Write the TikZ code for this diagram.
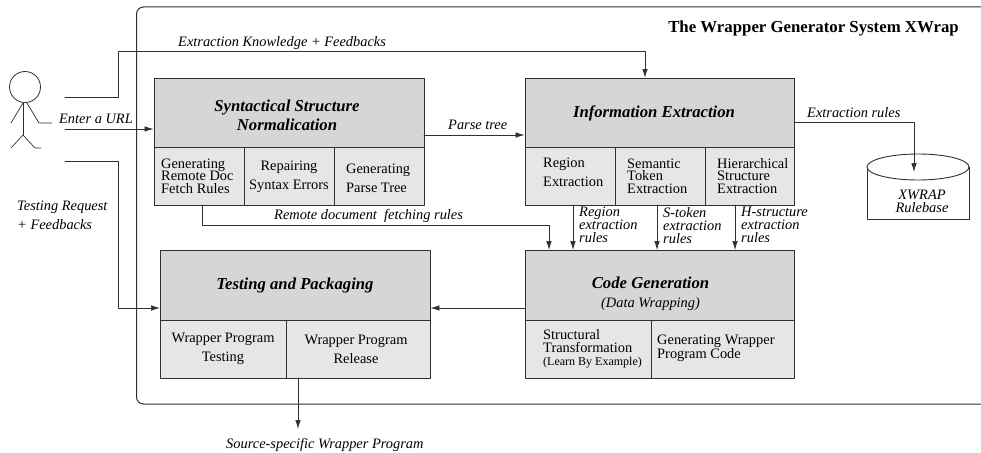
\documentclass[tikz,border=0pt]{standalone}
\usepackage{fontspec}
\setmainfont{Liberation Serif}
\usetikzlibrary{arrows.meta,positioning}
\definecolor{headgray}{HTML}{D6D6D6}
\definecolor{cellgray}{HTML}{E6E6E6}
\definecolor{linegray}{HTML}{303030}
\tikzset{
  headbox/.style={draw=linegray,line width=0.9pt,fill=headgray,inner sep=0pt,minimum height=70pt,align=center,font=\fontsize{16.7}{19}\selectfont\bfseries\itshape},
  headtext/.style={inner sep=0pt,align=center,font=\fontsize{16.7}{19}\selectfont\bfseries\itshape},
  cellbox/.style={draw=linegray,line width=0.9pt,fill=cellgray,inner sep=0pt,minimum height=58pt,align=center,font=\fontsize{14.4}{19}\selectfont},
  tight/.style={align=left,font=\fontsize{14.4}{12.6}\selectfont},
  lab/.style={inner sep=0pt,align=left,font=\fontsize{14.4}{13}\selectfont\itshape},
  wire/.style={draw=linegray,line width=0.7pt},
  arrow/.style={wire,-{Latex[length=9pt,width=5.5pt]}},
}
\begin{document}
\begin{tikzpicture}[x=1pt,y=-1pt,line cap=round,line join=round]
	\useasboundingbox (0,0) rectangle (981,452);
	% outer frame
	\draw [draw=linegray,line width=1pt,rounded corners=7pt] (1000,7)-- (136.5,7)-- (136.5,404)-- (1000,404);
	\node [anchor=base east,inner sep=0pt,font=\fontsize{16.8}{15}\selectfont\bfseries] (title) at (959,33) {The Wrapper Generator System XWrap};
	% syntactical structure
	\node [headbox,minimum width=270pt] (syn) at (289,113) {};
	\node [headtext] (synt) at (287,115) {Syntactical Structure\\Normalication};
	\node [cellbox,minimum width=90pt] (syna) at (199,176.5) {};
	\node [tight,inner sep=0pt,anchor=west] (synat) at (161,176) {Generating\\Remote Doc\\Fetch Rules};
	\node [cellbox,minimum width=90pt] (synb) at (289,176.5) {Repairing\\Syntax Errors};
	\node [cellbox,minimum width=90pt] (sync) at (379,176.5) {};
	\node [inner sep=0pt,align=left,anchor=west,font=\fontsize{14.4}{19}\selectfont] (synct) at (346,178) {Generating\\Parse Tree};
	% information extraction
	\node [headbox,minimum width=269pt] (inf) at (659.5,113) {};
	\node [headtext] (inft) at (654,113) {Information Extraction};
	\node [cellbox,minimum width=90pt] (infa) at (570,176.5) {};
	\node [inner sep=0pt,align=left,anchor=west,font=\fontsize{14.4}{19}\selectfont] (infat) at (543,172) {Region\\Extraction};
	\node [cellbox,minimum width=90pt] (infb) at (660,176.5) {};
	\node [tight,inner sep=0pt,anchor=west] (infbt) at (627,176) {Semantic\\Token\\Extraction};
	\node [cellbox,minimum width=89pt] (infc) at (749.5,176.5) {};
	\node [tight,inner sep=0pt,anchor=west] (infct) at (717,176) {Hierarchical\\Structure\\Extraction};
	% testing and packaging
	\node [headbox,minimum width=270pt] (tst) at (295,285) {Testing and Packaging};
	\node [cellbox,minimum width=126pt] (tsta) at (223,349) {Wrapper Program\\Testing};
	\node [cellbox,minimum width=144pt] (tstb) at (358,349) {};
	\node [inner sep=0pt,align=center,font=\fontsize{14.4}{19}\selectfont] (tstbt) at (356,349) {Wrapper Program\\Release};
	% code generation
	\node [headbox,minimum width=269pt] (cod) at (659.5,285) {};
	\node [headtext] (codt) at (650.5,294) {Code Generation\\{\fontsize{14.4}{19}\selectfont\mdseries (Data Wrapping)}};
	\node [cellbox,minimum width=126pt] (coda) at (588,349) {};
	\node [tight,inner sep=0pt,anchor=west] (codat) at (543,349) {Structural\\Transformation\\[1pt]{\fontsize{12}{12}\selectfont (Learn By Example)}};
	\node [cellbox,minimum width=143pt] (codb) at (722.5,349) {};
	\node [tight,inner sep=0pt,anchor=west] (codbt) at (657,348) {Generating Wrapper\\Program Code};
	% rulebase
	\draw [draw=linegray,line width=0.9pt,fill=white] (867,167)-- (867,219)-- (969,219)-- (969,167);
	\draw [draw=linegray,line width=0.9pt,fill=white] (918,167) ellipse (51pt and 13pt);
	\node [lab,align=center] (rule) at (922,201) {XWRAP\\Rulebase};
	\coordinate (rulein) at (914,172);
	% person
	\node [circle,draw=linegray,line width=0.8pt,minimum size=31pt,inner sep=0pt] (head) at (25,87) {};
	\draw [wire] (23,103)-- (23,135);
	\draw [wire] (23,103)-- (11,123);
	\draw [wire] (27,103)-- (39,123)-- (52,123);
	\draw [wire] (11,148)-- (23,135)-- (35,148)-- (41,148);
	\coordinate (pa) at (65,97);
	\coordinate (pb) at (65,129);
	\coordinate (pc) at (65,161);
	% connectors
	\coordinate (infn) at (645,78);
	\draw [arrow,line width=1pt] (pa)-- (118.5,97)-- (118.5,52)-- (645,52)-- (infn);
	\draw [arrow] (pb)-- (pb-|syn.west);
	\draw [arrow] (pc)-- (118.5,161)-- (118.5,308)-- (160,308);
	\coordinate (parse) at (424,135);
	\draw [arrow] (parse)-- (parse-|inf.west);
	\coordinate (exout) at (794,122);
	\draw [arrow] (exout)-- (914,122)-- (rulein);
	\coordinate (fetch) at (202.5,205);
	\draw [arrow] (fetch)-- (202.5,225)-- (549,225)-- (549,250);
	\coordinate (rega) at (573,205);
	\coordinate (segb) at (657,205);
	\coordinate (hiec) at (735,205);
	\draw [arrow] (rega)-- (573,250);
	\draw [arrow] (segb)-- (657,250);
	\draw [arrow] (hiec)-- (735,250);
	\coordinate (codw) at (525,308);
	\draw [arrow] (codw)-- (codw-|tst.east);
	\coordinate (relout) at (298,378);
	\coordinate (relend) at (298,429);
	\draw [arrow] (relout)-- (relend);
	% labels
	\node [lab,anchor=base west] (lknow) at (178,46) {Extraction Knowledge + Feedbacks};
	\node [lab,anchor=base west] (lurl) at (59,123) {Enter a URL};
	\node [lab,anchor=north west,font=\fontsize{14.4}{19}\selectfont\itshape] (ltest) at (17,201) {Testing Request\\+ Feedbacks};
	\node [lab,anchor=base west] (lparse) at (448,129) {Parse tree};
	\node [lab,anchor=base west] (lrules) at (807,117) {Extraction rules};
	\node [lab,anchor=base west] (lfetch) at (274,219) {Remote document~~fetching rules};
	\node [lab,anchor=north west] (lreg) at (579,207) {Region\\extraction\\rules};
	\node [lab,anchor=north west] (lstk) at (663,207) {S-token\\extraction\\rules};
	\node [lab,anchor=north west] (lhst) at (741,207) {H-structure\\extraction\\rules};
	\node [lab,anchor=base west] (lsrc) at (226,448) {Source-specific Wrapper Program};
\end{tikzpicture}
\end{document}
